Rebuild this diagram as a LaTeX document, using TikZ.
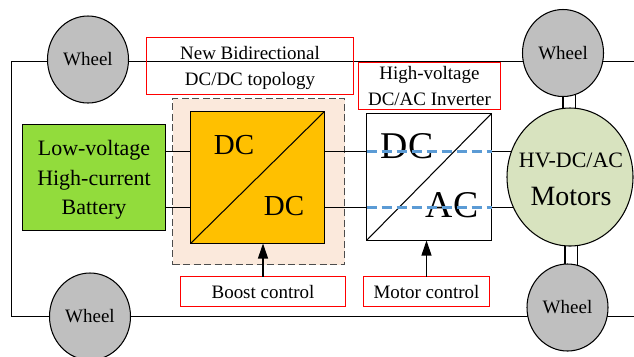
\documentclass[tikz,border=0pt]{standalone}
\usepackage{fontspec}
\setmainfont{Liberation Serif}
\usetikzlibrary{arrows.meta}
\usetikzlibrary{shapes.geometric}
\usetikzlibrary{backgrounds}
\definecolor{wheelgray}{HTML}{BFBFBF}
\definecolor{motorgreen}{HTML}{D8E3BF}
\definecolor{batterygreen}{HTML}{92DC3C}
\definecolor{boostyellow}{HTML}{FFC000}
\definecolor{regionpeach}{HTML}{FBE9DC}
\definecolor{wireblue}{HTML}{5B9BD5}
\tikzset{
box/.style={draw,rectangle,inner sep=0pt,outer sep=0pt,line width=0.6pt,align=center},
wheelnode/.style={draw,ellipse,fill=wheelgray,inner sep=0pt,outer sep=0pt,line width=0.6pt,minimum width=1.62cm,minimum height=1.74cm,font=\fontsize{10.8}{13}\selectfont},
redbox/.style={box,draw=red,font=\fontsize{10.8}{14.8}\selectfont},
biglabel/.style={inner sep=0pt,font=\fontsize{16.5}{20}\selectfont},
hugelabel/.style={inner sep=0pt,font=\fontsize{21.5}{26}\selectfont},
wire/.style={line width=0.6pt},
bluewire/.style={draw=wireblue,line width=1.2pt,dash pattern=on 0.2cm off 0.1cm}
}

\begin{document}
\begin{tikzpicture}
\useasboundingbox (0,0) rectangle (12.68,-7.12);
\coordinate (railtl) at (0.23,-1.23);
\coordinate (railtr) at (12.68,-1.23);
\coordinate (railbl) at (0.23,-6.33);
\coordinate (railbr) at (12.68,-6.33);
\coordinate (wireup) at (0,-3.03);
\coordinate (wirelow) at (0,-4.15);
\node[box,fill=regionpeach,dash pattern=on 0.14cm off 0.07cm,draw=black!70,line width=1.1pt,minimum width=3.44cm,minimum height=3.32cm] (region) at (5.17,-3.63) {};
\node[box,fill=boostyellow,minimum width=2.68cm,minimum height=2.64cm] (dcdc) at (5.15,-3.55) {};
\node[box,fill=batterygreen,minimum width=2.86cm,minimum height=2.12cm,font=\fontsize{12.5}{16.8}\selectfont] (battery) at (1.88,-3.55) {\rule{0pt}{11.6pt}Low-voltage\\High-current\\Battery};
\node[box,fill=white,minimum width=2.5cm,minimum height=2.54cm] (inverter) at (8.58,-3.54) {};
\node[draw,ellipse,fill=motorgreen,inner sep=0pt,outer sep=0pt,line width=0.6pt,minimum width=2.52cm,minimum height=2.76cm] (motor) at (11.40,-3.54) {};
\node[inner sep=0pt,font=\fontsize{12.5}{15}\selectfont] (motorhv) at (11.42,-3.2) {HV-DC/AC};
\node[inner sep=0pt,font=\fontsize{15.9}{19}\selectfont] (motorname) at (11.42,-3.92) {Motors};
\node[wheelnode] (wheeltl) at (1.76,-1.19) {Wheel};
\node[wheelnode] (wheeltr) at (11.26,-1.06) {Wheel};
\node[wheelnode] (wheelbl) at (1.80,-6.33) {Wheel};
\node[wheelnode] (wheelbr) at (11.35,-6.15) {Wheel};
\node[redbox,minimum width=4.14cm,minimum height=1.14cm] (topology) at (5,-1.32) {\rule{0pt}{10.2pt}New Bidirectional\\DC/DC topology};
\node[redbox,fill=white,minimum width=2.84cm,minimum height=0.94cm] (invname) at (8.59,-1.72) {High-voltage\\DC/AC Inverter};
\node[redbox,fill=white,minimum width=3.3cm,minimum height=0.6cm] (boostctl) at (5.26,-5.83) {Boost control};
\node[redbox,fill=white,minimum width=2.52cm,minimum height=0.6cm] (motorctl) at (8.53,-5.83) {Motor control};
\node[biglabel] (dcupper) at (4.68,-2.9) {DC};
\node[biglabel] (dclower) at (5.68,-4.12) {DC};
\node[hugelabel] (invdc) at (8.14,-2.92) {DC};
\node[hugelabel] (invac) at (9.04,-4.1) {AC};
\draw[wire] (dcdc.south west) -- (dcdc.north east);
\draw[wire] (inverter.south west) -- (inverter.north east);
\draw[wire] (battery.east |- wireup) -- (dcdc.west |- wireup);
\draw[wire] (battery.east |- wirelow) -- (dcdc.west |- wirelow);
\draw[wire] (dcdc.east |- wireup) -- (inverter.west |- wireup);
\draw[wire] (dcdc.east |- wirelow) -- (inverter.west |- wirelow);
\draw[bluewire] (inverter.west |- wireup) -- (inverter.east |- wireup);
\draw[bluewire] (inverter.west |- wirelow) -- (inverter.east |- wirelow);
\draw[wire,-{Triangle[length=0.3cm,width=0.2cm]}] (boostctl.north) -- (boostctl.north |- dcdc.south);
\draw[wire,-{Triangle[length=0.3cm,width=0.2cm]}] (motorctl.north) -- (motorctl.north |- inverter.south);
\begin{pgfonlayer}{background}
\draw[wire] (railtr) -- (wheeltr.center |- railtr) -- (wheeltl.center |- railtr) -- (railtl) -- (railbl) -- (wheelbl) -- (wheelbr.center |- railbr) -- (railbr);
\draw[wire] (inverter.east |- wireup) -- (motor.center |- wireup);
\draw[wire] (inverter.east |- wirelow) -- (motor.center |- wirelow);
\foreach \x in {0,0.25} {
\draw[wire] ([xshift=\x cm]wheeltr.center) -- ([xshift=\x cm]wheeltr.center |- motor.center);
\draw[wire] ([xshift=\x cm-0.05cm]wheelbr.center) -- ([xshift=\x cm-0.05cm]wheelbr.center |- motor.center);
}
\end{pgfonlayer}
\end{tikzpicture}
\end{document}
